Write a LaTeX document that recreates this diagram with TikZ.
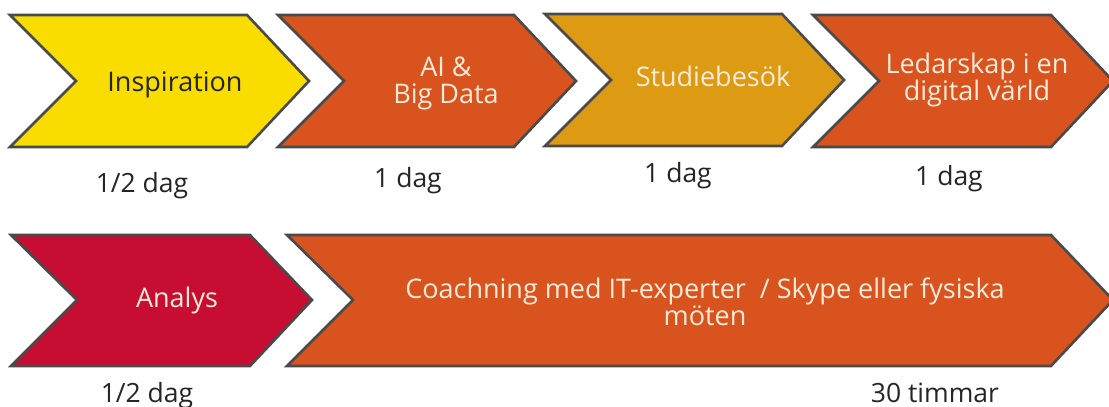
\documentclass[tikz,border=0pt]{standalone}
\usepackage{fontspec}
\setmainfont{Open Sans}
\definecolor{yellowc}{HTML}{F9DD00}
\definecolor{orangec}{HTML}{D9531F}
\definecolor{goldc}{HTML}{DD9A13}
\definecolor{redc}{HTML}{C70E32}
\definecolor{creamc}{HTML}{FCEBD8}
\definecolor{borderc}{HTML}{4A4A4A}
\definecolor{labelc}{HTML}{252525}
\newcommand\mychev[6]{\draw[chevbox,fill=#6] (#1,#3) -- (#2,#3) -- ({#2+62},#4) -- (#2,#5) -- (#1,#5) -- ({#1+66},#4) -- cycle;}
\begin{document}
\begin{tikzpicture}[x=1pt,y=-1pt,
  chevbox/.style={draw=borderc,line width=2.6pt,line join=miter},
  intext/.style={font=\fontsize{27}{27}\selectfont,text=creamc,align=center,inner sep=0pt,anchor=center},
  daylabel/.style={font=\fontsize{26.5}{27}\selectfont,text=labelc,inner sep=0pt,anchor=base}]
\useasboundingbox[fill=white] (0,0) rectangle (1109,407);
% row 1
\mychev{10}{247}{15}{81}{147}{yellowc}
\mychev{278}{514}{15}{81}{147}{orangec}
\mychev{545}{782}{14}{80}{146}{goldc}
\mychev{813}{1051}{15}{81}{147}{orangec}
% row 2
\mychev{11}{250}{235}{300}{366}{redc}
\mychev{287}{1051}{235}{300}{366}{orangec}
% texts
\node[intext,text=labelc] (insp) at (175,84.5) {Inspiration};
\node[intext] (ai) at (446,83.5) {AI \&\\Big Data};
\node[intext] (stud) at (713,76.5) {Studiebesök};
\node[intext] (led) at (977,80) {Ledarskap i en\\digital värld};
\node[intext] (ana) at (177,300) {Analys};
\node[intext] (coach) at (705,301.5) {Coachning med IT-experter \ / Skype eller fysiska\\möten};
% durations
\node[daylabel] (d1) at (142,192) {1/2 dag};
\node[daylabel] (d2) at (408,187) {1 dag};
\node[daylabel] (d3) at (678,182) {1 dag};
\node[daylabel] (d4) at (949,185) {1 dag};
\node[daylabel] (d5) at (147,402) {1/2 dag};
\node[daylabel] (d6) at (935,402) {30 timmar};
\end{tikzpicture}
\end{document}
